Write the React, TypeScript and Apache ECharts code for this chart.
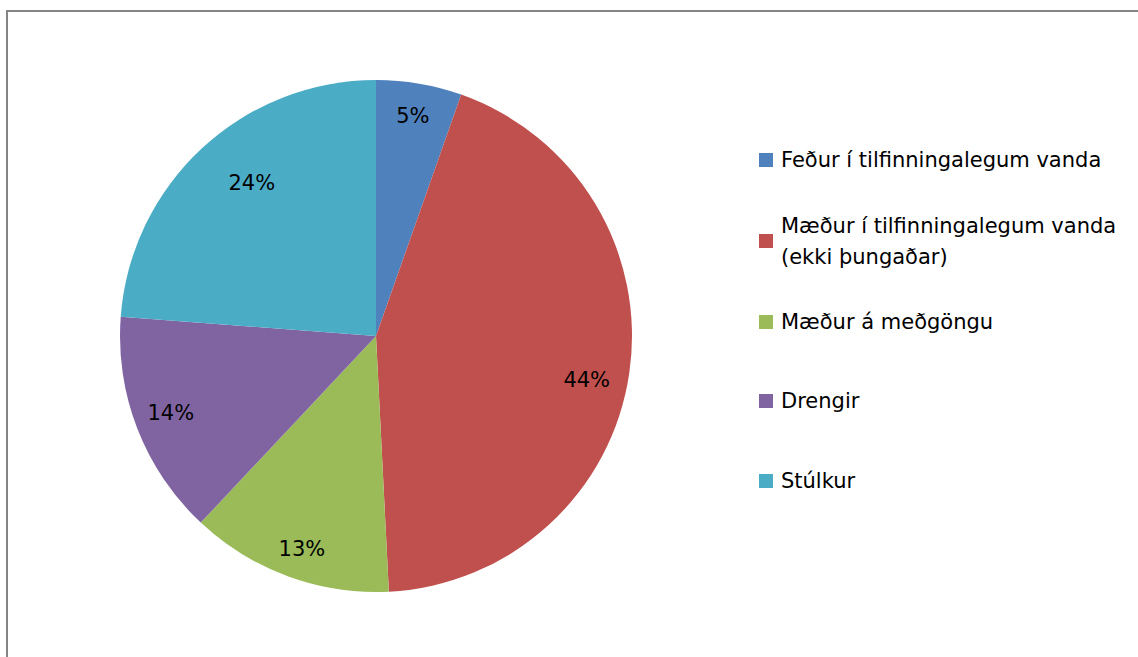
import React, { useEffect, useRef } from "react";
import * as echarts from "echarts";

const categories = [
  "Feður í tilfinningalegum vanda",
  "Mæður í tilfinningalegum vanda (ekki þungaðar)",
  "Mæður á meðgöngu",
  "Drengir",
  "Stúlkur",
];
const values = [5.4, 43.8, 12.8, 14.2, 23.8];
const colors = ["#4F81BD", "#C0504D", "#9BBB59", "#8064A2", "#4BACC6"];

// layout (icon centre y of each legend entry)
const legendCentres = [160, 241, 322, 401, 481];
// small nudges of the percentage labels (Excel's best-fit placement)
const labelNudges = [
  [0, -5],
  [-5, 13],
  [1, 8],
  [-2, -2],
  [24, 7],
];

const FONT = "DejaVu Sans";
const FS = 21;
const LH = 31;

export default function App() {
  const ref = useRef<HTMLDivElement>(null);
  useEffect(() => {
    if (!ref.current) return;
    const chart = echarts.init(ref.current, undefined, { renderer: "svg" });
    const pieData = categories.map((name, i) => ({
      name,
      value: values[i],
      itemStyle: { color: colors[i] },
    }));
    const legends = categories.map((name, i) => {
      const twoLine = name.includes("(");
      return {
        left: 759,
        top: twoLine ? legendCentres[i] - 1.5 * LH : legendCentres[i] - LH / 2,
        orient: "vertical",
        padding: 0,
        icon: "rect",
        itemWidth: 14,
        itemHeight: 14,
        selectedMode: false,
        formatter: (n: string) => n.replace(" (", "\n("),
        textStyle: {
          fontFamily: FONT,
          fontSize: FS,
          color: "#000",
          lineHeight: LH,
          padding: twoLine ? [LH, 0, 0, 3] : [0, 0, 0, 3],
        },
        data: [name],
      };
    });
    chart.setOption({
      animation: false,
      backgroundColor: "#fff",
      graphic: [
        {
          type: "rect",
          shape: { x: 7, y: 11, width: 1200, height: 800 },
          style: { fill: "none", stroke: "#858585", lineWidth: 2 },
          silent: true,
        },
      ],
      legend: legends,
      series: [
        {
          type: "pie",
          center: [376, 336],
          radius: [0, 256],
          startAngle: 90,
          clockwise: true,
          label: { show: false },
          labelLine: { show: false },
          emphasis: { disabled: true },
          itemStyle: { borderWidth: 0 },
          data: pieData,
        },
        {
          type: "pie",
          center: [376, 336],
          radius: [174, 256],
          startAngle: 90,
          clockwise: true,
          silent: true,
          emphasis: { disabled: true },
          itemStyle: { color: "transparent", borderWidth: 0 },
          label: {
            show: true,
            position: "inside",
            fontFamily: FONT,
            fontSize: FS,
            color: "#000",
            formatter: (p: any) => Math.round(p.percent) + "%",
          },
          labelLayout: (p: any) => ({
            dx: labelNudges[p.dataIndex][0],
            dy: labelNudges[p.dataIndex][1],
          }),
          labelLine: { show: false },
          data: categories.map((name, i) => ({ name, value: values[i] })),
        },
      ],
    });
    return () => chart.dispose();
  }, []);
  return (
    <div
      ref={ref}
      style={{ position: "fixed", left: 0, top: 0, width: 1138, height: 657 }}
    />
  );
}
